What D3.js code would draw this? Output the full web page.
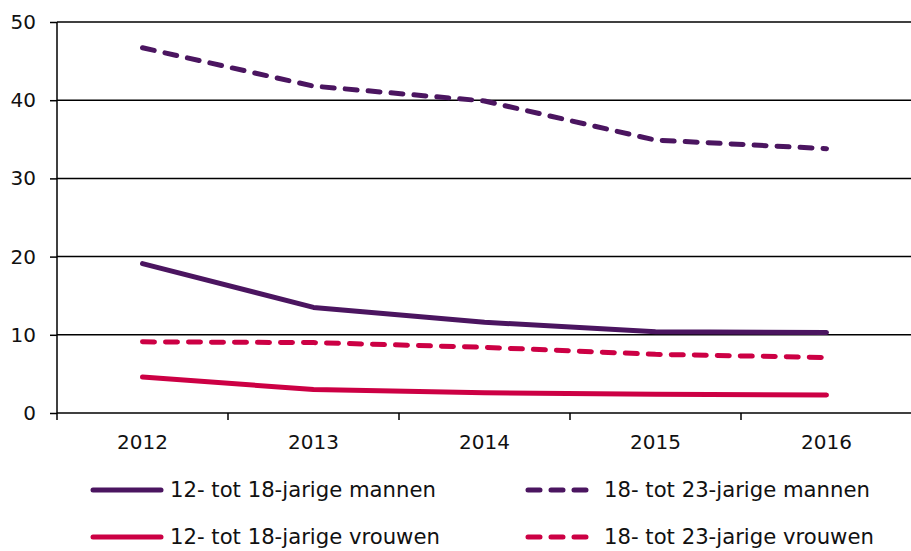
<!DOCTYPE html>
<html>
<head>
<meta charset="utf-8">
<script src="https://cdn.jsdelivr.net/npm/d3@7"></script>
<style>
  html, body { margin: 0; padding: 0; background: #fff; }
  svg { display: block; font-family: "DejaVu Sans", Verdana, sans-serif; }
</style>
</head>
<body>
<svg id="chart" width="911" height="551"></svg>
<script>
// Years on the category axis
const years = ["2012", "2013", "2014", "2015", "2016"];

// Series values (per year)
const jongensMannen = [19.1, 13.5, 11.6, 10.4, 10.3];   // 12- tot 18-jarige mannen
const jongvolwMannen = [46.7, 41.8, 39.9, 34.9, 33.8];  // 18- tot 23-jarige mannen
const jongensVrouwen = [4.6, 3.0, 2.6, 2.4, 2.3];       // 12- tot 18-jarige vrouwen
const jongvolwVrouwen = [9.1, 9.0, 8.4, 7.5, 7.1];      // 18- tot 23-jarige vrouwen

const yTicks = [0, 10, 20, 30, 40, 50];

const series = [
  { name: "12- tot 18-jarige mannen", values: jongensMannen, color: "#4b1560", dashed: false },
  { name: "18- tot 23-jarige mannen", values: jongvolwMannen, color: "#4b1560", dashed: true },
  { name: "12- tot 18-jarige vrouwen", values: jongensVrouwen, color: "#cc0044", dashed: false },
  { name: "18- tot 23-jarige vrouwen", values: jongvolwVrouwen, color: "#cc0044", dashed: true }
];

const svg = d3.select("#chart");
const plotLeft = 57, plotRight = 912, plotTop = 22, plotBottom = 413;

const x = d3.scaleBand().domain(years).range([plotLeft, plotRight]);
const y = d3.scaleLinear().domain([0, 50]).range([plotBottom, plotTop]);

// Horizontal gridlines
svg.append("g")
  .selectAll("line")
  .data(yTicks.filter(d => d > 0))
  .join("line")
  .attr("x1", plotLeft).attr("x2", 911)
  .attr("y1", d => y(d)).attr("y2", d => y(d))
  .attr("stroke", "#000").attr("stroke-width", 1.5);

// Y axis
const yAxis = svg.append("g")
  .attr("transform", `translate(${plotLeft},0)`)
  .call(d3.axisLeft(y).tickValues(yTicks).tickSize(7).tickPadding(14).tickFormat(d3.format("d")));
yAxis.select(".domain").attr("stroke", "#000").attr("stroke-width", 1.5).attr("d", `M0,${plotTop}V${plotBottom}`);
yAxis.selectAll(".tick line").attr("stroke", "#000").attr("stroke-width", 1.5);
yAxis.selectAll(".tick text").attr("font-size", 20).attr("fill", "#111").attr("font-family", "DejaVu Sans, Verdana, sans-serif");

// X axis with ticks at category boundaries
const xAxis = svg.append("g").attr("transform", `translate(0,${plotBottom})`);
xAxis.append("line")
  .attr("x1", plotLeft).attr("x2", 911).attr("y1", 0).attr("y2", 0)
  .attr("stroke", "#000").attr("stroke-width", 1.5);
const bounds = years.map(d => x(d)).concat([x(years[years.length - 1]) + x.bandwidth()]);
xAxis.selectAll("line.tk")
  .data(bounds)
  .join("line")
  .attr("class", "tk")
  .attr("x1", d => d).attr("x2", d => d)
  .attr("y1", 0).attr("y2", 7)
  .attr("stroke", "#000").attr("stroke-width", 1.5);
xAxis.selectAll("text")
  .data(years)
  .join("text")
  .attr("x", d => x(d) + x.bandwidth() / 2)
  .attr("y", 36)
  .attr("text-anchor", "middle")
  .attr("font-size", 20)
  .attr("fill", "#111")
  .text(d => d);

// Lines
const line = d3.line()
  .x((d, i) => x(years[i]) + x.bandwidth() / 2)
  .y(d => y(d));

svg.append("g")
  .selectAll("path")
  .data(series)
  .join("path")
  .attr("d", d => line(d.values))
  .attr("fill", "none")
  .attr("stroke", d => d.color)
  .attr("stroke-width", 5)
  .attr("stroke-linecap", "round")
  .attr("stroke-linejoin", "round")
  .attr("stroke-dasharray", d => d.dashed ? "12,11" : null);

// Legend: two rows, two columns
const legendPos = [
  { x: 93, y: 490 }, { x: 528, y: 490 },
  { x: 93, y: 537 }, { x: 528, y: 537 }
];
const legend = svg.append("g")
  .selectAll("g")
  .data(series)
  .join("g")
  .attr("transform", (d, i) => `translate(${legendPos[i].x},${legendPos[i].y})`);
legend.append("line")
  .attr("x1", 0).attr("x2", d => d.dashed ? 58 : 68)
  .attr("y1", 0).attr("y2", 0)
  .attr("stroke", d => d.color)
  .attr("stroke-width", 5)
  .attr("stroke-linecap", "round")
  .attr("stroke-dasharray", d => d.dashed ? "12,11" : null);
legend.append("text")
  .attr("x", d => d.dashed ? 76 : 77)
  .attr("y", 0)
  .attr("dy", "0.35em")
  .attr("font-size", 21.2)
  .attr("fill", "#111")
  .text(d => d.name);
</script>
</body>
</html>
